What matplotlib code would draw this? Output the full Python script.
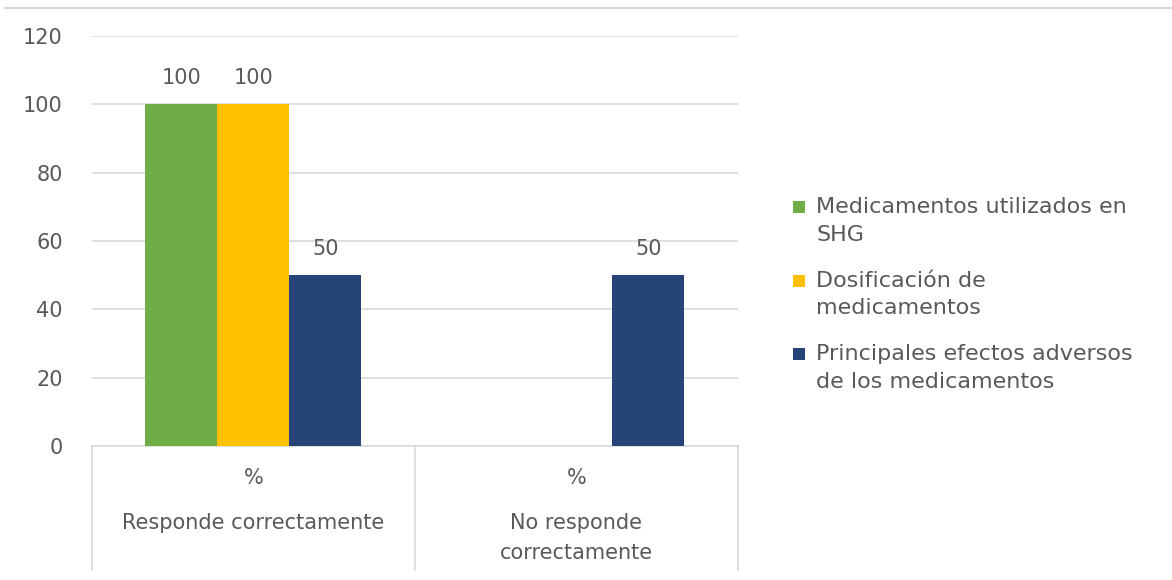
import matplotlib.pyplot as plt
from matplotlib.lines import Line2D
from matplotlib.patches import Rectangle
import numpy as np

categories = ["%\nResponde correctamente", "%\nNo responde\ncorrectamente"]
series = ["Medicamentos utilizados en\nSHG", "Dosificación de\nmedicamentos",
          "Principales efectos adversos\nde los medicamentos"]
medicamentos = [100, 0]
dosificacion = [100, 0]
efectos = [50, 50]
colors = ["#70AD47", "#FFC000", "#264478"]

plt.rcParams['font.family'] = ['DejaVu Sans']
text_col = "#595959"
grid_col = "#D9D9D9"
fs = 15

W, H = 1172, 580
fig = plt.figure(figsize=(W/100, H/100), dpi=100)
ax = fig.add_axes([92/W, 1-446/H, (738-92)/W, (446-36)/H])

x = np.arange(len(categories)) + 0.5
width = 72/323
values = [medicamentos, dosificacion, efectos]
for i, (vals, col) in enumerate(zip(values, colors)):
    pos = x + (i-1)*width
    for p, v in zip(pos, vals):
        if v > 0:
            ax.bar(p, v, width, color=col, zorder=3)
            ax.text(p, v + 7.7, str(v), ha='center', va='center', fontsize=fs, color=text_col)

ax.set_xlim(0, 2)
ax.set_ylim(0, 120)
ax.set_yticks(range(0, 121, 20))
ax.yaxis.grid(True, color=grid_col, linewidth=1.2, zorder=0)
ax.tick_params(axis='y', length=0, pad=21, labelsize=fs, labelcolor=text_col)
ax.set_xticks([])
for s in ['top', 'right', 'left']:
    ax.spines[s].set_visible(False)
ax.spines['bottom'].set_color(grid_col)
ax.spines['bottom'].set_linewidth(1.2)

# multi-level category boxes
trans = ax.get_xaxis_transform()
depth = (570-446)/410
for xv in [0, 1, 2]:
    ax.plot([xv, xv], [0, -depth], color=grid_col, lw=1.2, transform=trans, clip_on=False)
for xc, lab in zip(x, categories):
    lines = lab.split("\n")
    ax.text(xc, -(478-446)/410, lines[0], ha='center', va='center', transform=trans,
            fontsize=fs, color=text_col)
    for j, ln in enumerate(lines[1:]):
        ax.text(xc, -(523 + 30*j - 446)/410, ln, ha='center', va='center', transform=trans,
                fontsize=fs, color=text_col)

# top border line
fig.add_artist(Line2D([5/W, 1], [1-8/H, 1-8/H], color=grid_col, lw=1.5))

# legend, Excel style: marker next to first line of each entry
for i, (lab, col) in enumerate(zip(series, colors)):
    y0 = 207 + 73.5*i
    fig.add_artist(Rectangle((793/W, 1-(y0+6)/H), 12/W, 12/H, facecolor=col,
                             edgecolor='none', transform=fig.transFigure))
    for j, ln in enumerate(lab.split("\n")):
        fig.text(816/W, 1-(y0 + 28*j)/H, ln, ha='left', va='center',
                 fontsize=16, color=text_col)

fig.savefig("out.png", dpi=100)
